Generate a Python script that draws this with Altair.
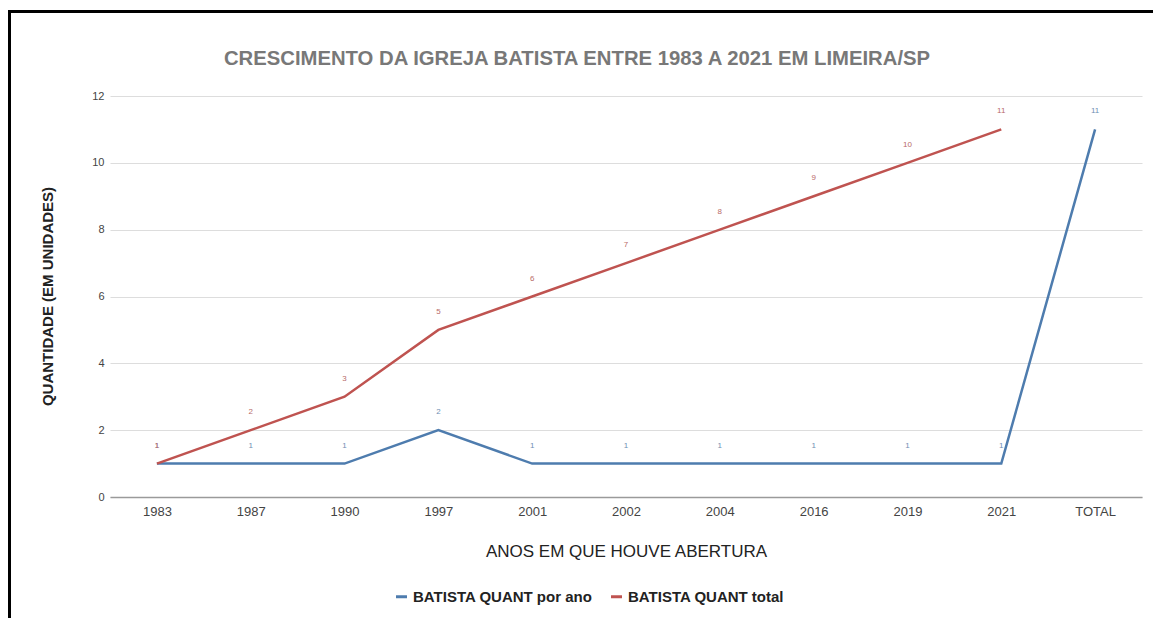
import altair as alt
import pandas as pd

categories = ["1983", "1987", "1990", "1997", "2001", "2002", "2004", "2016", "2019", "2021", "TOTAL"]
por_ano = [1, 1, 1, 2, 1, 1, 1, 1, 1, 1, 11]
total = [1, 2, 3, 5, 6, 7, 8, 9, 10, 11, None]
series_names = ["BATISTA QUANT por ano", "BATISTA QUANT total"]
series_colors = ["#4e7cae", "#bf5350"]
label_colors = ["#6f8fb3", "#b86a68"]
title_text = "CRESCIMENTO DA IGREJA BATISTA ENTRE 1983 A 2021 EM LIMEIRA/SP"

rows = []
for c, a, t in zip(categories, por_ano, total):
    rows.append({"cat": c, "serie": series_names[0], "valor": a})
    if t is not None:
        rows.append({"cat": c, "serie": series_names[1], "valor": t})
df = pd.DataFrame(rows)

FONT = "Liberation Sans"

x_enc = alt.X(
    "cat:N", sort=categories,
    scale=alt.Scale(type="point", padding=0.5),
    axis=alt.Axis(
        title="ANOS EM QUE HOUVE ABERTURA", labelAngle=0, labelFont=FONT, labelFontSize=13,
        labelColor="#444444", labelPadding=8, ticks=False, domain=True, domainColor="#9a9a9a",
        domainWidth=1.5, titleFont=FONT, titleFontSize=17, titleFontWeight="normal",
        titleColor="#222222", titleY=54, titleBaseline="middle", grid=False,
    ),
)
y_enc = alt.Y(
    "valor:Q",
    scale=alt.Scale(domain=[0, 12], nice=False),
    axis=alt.Axis(
        title="QUANTIDADE (EM UNIDADES)", values=[0, 2, 4, 6, 8, 10, 12], labelFont=FONT,
        labelFontSize=11, labelColor="#444444", labelPadding=6, ticks=False, domain=False,
        grid=True, gridColor="#dddddd", gridWidth=1, titleFont=FONT, titleFontSize=15,
        titleFontWeight="bold", titleColor="#222222", titleX=-63, titleY=200,
        titleBaseline="middle", titleAngle=-90,
    ),
)

color_scale = alt.Scale(domain=series_names, range=series_colors)

lines = alt.Chart(df).mark_line(strokeWidth=2.5).encode(
    x=x_enc, y=y_enc,
    color=alt.Color(
        "serie:N", scale=color_scale,
        legend=alt.Legend(
            title=None, orient="none", direction="horizontal", legendX=284, legendY=493,
            symbolType="stroke", symbolStrokeWidth=3, symbolSize=120, labelFont=FONT,
            labelFontSize=15, labelFontWeight="bold", labelColor="#222222", columnPadding=12,
            symbolOffset=0, labelLimit=0,
        ),
    ),
)

labels = alt.Chart(df).mark_text(dy=-18, font=FONT, fontSize=8).encode(
    x=alt.X("cat:N", sort=categories),
    y="valor:Q",
    text="valor:Q",
    color=alt.Color("serie:N", scale=alt.Scale(domain=series_names, range=label_colors), legend=None),
)

title = alt.Chart(alt.Data(values=[{"t": title_text}])).mark_text(
    font=FONT, fontSize=20.3, fontWeight="bold", color="#787878", align="center",
    baseline="alphabetic",
).encode(text="t:N", x=alt.value(467), y=alt.value(-31))

frame = alt.Chart(alt.Data(values=[{}])).mark_rect(
    fill=None, stroke="#000000", strokeWidth=3
).encode(
    x=alt.value(-100.5), x2=alt.value(1200), y=alt.value(-84.5), y2=alt.value(700)
)

chart = alt.layer(lines, labels, title, frame).resolve_scale(color="independent").properties(
    width=1032, height=401,
    padding={"left": 102, "top": 88, "right": 11, "bottom": 121},
    autosize=alt.AutoSizeParams(type="none"),
).configure_view(stroke=None)

chart.save("out.html", embed_options={"renderer": "svg", "actions": False})
